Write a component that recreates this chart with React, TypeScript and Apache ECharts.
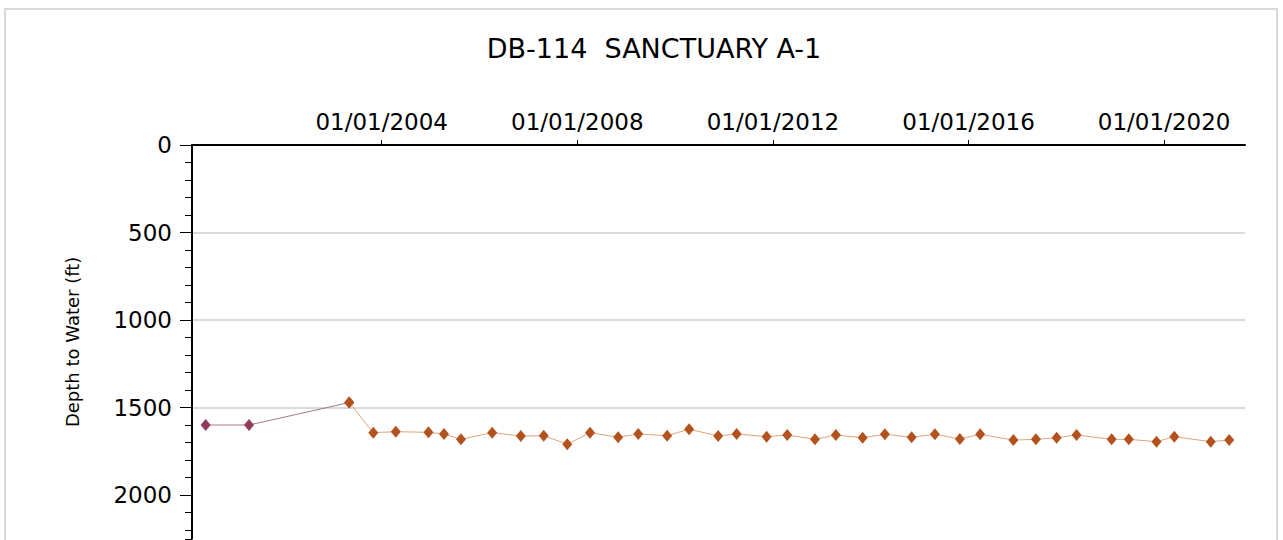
import React, { useEffect, useRef } from "react";
import * as echarts from "echarts";

const titleText = "DB-114  SANCTUARY A-1";
const yAxisName = "Depth to Water (ft)";

const sampleDates = [
  "2000-05-26", "2001-04-15", "2003-05-03", "2003-10-30", "2004-04-15", "2004-12-15",
  "2005-04-10", "2005-08-15", "2006-04-05", "2006-11-05", "2007-04-25", "2007-10-18",
  "2008-04-05", "2008-11-01", "2009-03-31", "2009-11-02", "2010-04-15", "2010-11-18",
  "2011-04-05", "2011-11-15", "2012-04-17", "2012-11-10", "2013-04-15", "2013-11-01",
  "2014-04-16", "2014-11-02", "2015-04-25", "2015-10-28", "2016-03-28", "2016-12-01",
  "2017-05-18", "2017-10-20", "2018-03-18", "2018-12-05", "2019-04-12", "2019-11-05",
  "2020-03-17", "2020-12-14", "2021-05-01",
];

const depthValues = [
  1600, 1600, 1472, 1644, 1638, 1642,
  1651, 1682, 1644, 1663, 1661, 1710,
  1644, 1670, 1651, 1661, 1624, 1663,
  1651, 1667, 1657, 1682, 1657, 1673,
  1653, 1670, 1653, 1680, 1653, 1686,
  1682, 1673, 1657, 1682, 1682, 1695,
  1667, 1695, 1686,
];

// first series covers the first three samples, second from the third on
const firstSeriesEnd = 3;
const secondSeriesStart = 2;

const xTickDates = ["2004-01-01", "2008-01-01", "2012-01-01", "2016-01-01", "2020-01-01"];
const xMinDate = "2000-02-14";
const xMaxDate = "2021-08-27";

const yTicks = [0, 500, 1000, 1500, 2000];
const yMin = 0;
const yMax = 2250;
const yMinorStep = 100;

const toTs = (s: string) => {
  const [y, m, d] = s.split("-").map(Number);
  return Date.UTC(y, m - 1, d);
};
const pad = (n: number) => (n < 10 ? "0" + n : "" + n);

export default function App() {
  const ref = useRef<HTMLDivElement>(null);

  useEffect(() => {
    if (!ref.current) return;
    const chart = echarts.init(ref.current, null, { renderer: "svg" });
    const font = "DejaVu Sans";
    const pts = sampleDates.map((d, i) => [toTs(d), depthValues[i]]);
    const seriesA = pts.slice(0, firstSeriesEnd);
    const seriesB = pts.slice(secondSeriesStart);
    const xTicks = xTickDates.map(toTs);

    chart.setOption({
      animation: false,
      backgroundColor: "#ffffff",
      grid: { left: 192, top: 145, width: 1053, height: 393.75 },
      graphic: [
        {
          type: "rect",
          z: -10,
          shape: { x: 5, y: 9, width: 1272, height: 620 },
          style: { fill: "none", stroke: "#d9d9d9", lineWidth: 2 },
        },
        {
          type: "text",
          x: 654,
          y: 48,
          style: {
            text: titleText,
            fontFamily: font,
            fontSize: 27,
            fill: "#000",
            align: "center",
            verticalAlign: "middle",
          },
        },
      ],
      xAxis: {
        type: "value",
        position: "top",
        min: toTs(xMinDate),
        max: toTs(xMaxDate),
        axisLine: { show: true, lineStyle: { color: "#000", width: 2 } },
        axisTick: {
          show: true,
          length: 5,
          customValues: xTicks,
          lineStyle: { color: "#000", width: 1 },
        },
        axisLabel: {
          show: true,
          customValues: xTicks,
          margin: 12,
          color: "#000",
          fontFamily: font,
          fontSize: 23,
          formatter: (v: number) => {
            const d = new Date(v);
            return pad(d.getUTCMonth() + 1) + "/" + pad(d.getUTCDate()) + "/" + d.getUTCFullYear();
          },
        },
        splitLine: { show: false },
        minorTick: { show: false },
      },
      yAxis: [
        {
          type: "value",
          inverse: true,
          min: yMin,
          max: yMax,
          interval: 500,
          position: "left",
          name: yAxisName,
          nameLocation: "middle",
          nameRotate: 90,
          nameGap: 111,
          nameTextStyle: { color: "#000", fontFamily: font, fontSize: 18 },
          axisLine: { show: true, lineStyle: { color: "#000", width: 2 } },
          axisTick: {
            show: true,
            length: 12,
            customValues: yTicks,
            lineStyle: { color: "#000", width: 1 },
          },
          axisLabel: {
            show: true,
            customValues: yTicks,
            margin: 20,
            color: "#000",
            fontFamily: font,
            fontSize: 23,
            formatter: (v: number) => String(v),
          },
          splitLine: {
            show: true,
            showMinLine: false,
            showMaxLine: false,
            lineStyle: { color: "#d9d9d9", width: 2 },
          },
        },
        {
          type: "value",
          inverse: true,
          min: yMin,
          max: yMax,
          interval: yMinorStep,
          position: "left",
          axisLine: { show: false },
          axisTick: { show: true, length: 7, lineStyle: { color: "#000", width: 1 } },
          axisLabel: { show: false },
          splitLine: { show: false },
        },
      ],
      series: [
        {
          type: "line",
          yAxisIndex: 0,
          data: seriesA,
          symbol: "diamond",
          symbolSize: [10, 12],
          itemStyle: { color: "#8e3b5c" },
          lineStyle: { color: "#a8788e", width: 1 },
          z: 2,
        },
        {
          type: "line",
          yAxisIndex: 0,
          data: seriesB,
          symbol: "diamond",
          symbolSize: [10, 12],
          itemStyle: { color: "#b4521e" },
          lineStyle: { color: "#dfa47c", width: 1 },
          z: 3,
        },
      ],
    });
    return () => chart.dispose();
  }, []);

  return (
    <div
      ref={ref}
      style={{ position: "fixed", left: 0, top: 0, width: 1283, height: 540 }}
    />
  );
}
